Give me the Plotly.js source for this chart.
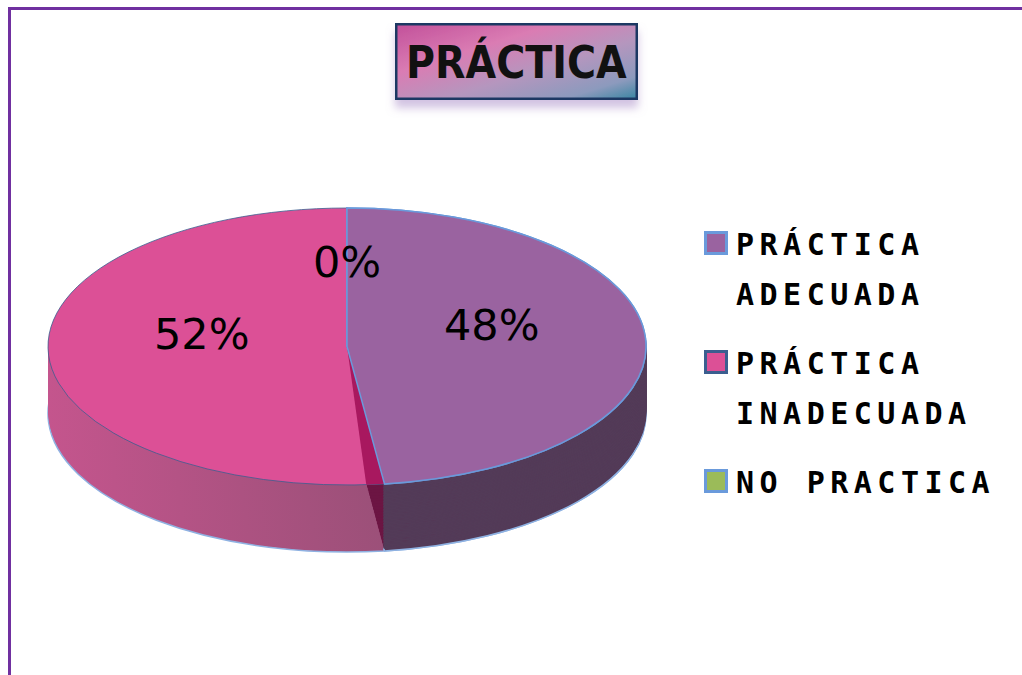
<!DOCTYPE html>
<html>
<head>
<meta charset="utf-8">
<script src="https://cdn.plot.ly/plotly-3.0.1.min.js"></script>
<style>
  html, body { margin: 0; padding: 0; background: #fff; overflow: hidden; }
  #chart { width: 1022px; height: 675px; }
  .legendtext { letter-spacing: 5.5px; }
</style>
</head>
<body>
<div id="chart"></div>
<script>
// Practice categories and their shares (%)
const categories = ['PRÁCTICA<br>ADECUADA', 'PRÁCTICA<br>INADECUADA', 'NO PRACTICA'];
const shares = [48, 52, 0];
const chartTitle = 'PRÁCTICA';

// Slice colours: top face, side wall and outline
const topColors = ['#9A63A0', '#DC5096', '#9BBB59'];
const sideColors = ['#533B58', '#AE5282', '#76923C'];
const edgeColors = ['#6A9ADB', '#3B5E8F', '#6A9ADB'];
const edgeWidths = [1.5, 0.8, 1.5];
const cutTopColor = '#A8185F';    // exposed cut face, upper part
const cutSideColor = '#6C1543';   // exposed cut face, in shadow
const rimColor = '#8FB2E2';
const CLEAR = 'rgba(0,0,0,0)';

// Page and disc geometry (pixels)
const W = 1022, H = 675;
const PIE_LEFT = 48, PIE_RIGHT = 646;
const CX = (PIE_LEFT + PIE_RIGHT) / 2;
const RX = (PIE_RIGHT - PIE_LEFT) / 2;
const TOP_CY = 346.5;      // centre of the tilted top face
const RY = 138.5;          // half-height of the tilted top face
const DEPTH = 67;          // thickness of the disc
const LAYERS = 24;         // stacked copies that build the side wall
const CUT_TURN = 3.5;      // degrees of cut face left visible at the top
const LABEL_R = 0.485;     // label distance, fraction of the radius
const LABEL_LIFT = 17;

const pieBase = {
  type: 'pie',
  labels: categories,
  values: shares,
  sort: false,
  direction: 'clockwise',
  rotation: 0,
  textinfo: 'none',
  hoverinfo: 'skip',
  showlegend: false,
  domain: { x: [PIE_LEFT / W, PIE_RIGHT / W], y: [0, 1] }
};

const data = [];
const traceDepth = [];     // vertical drop of each trace, px
const pinkShaded = [];     // traces whose second slice gets the side shading
function addTrace(extra, depth, shaded) {
  data.push(Object.assign({}, pieBase, extra));
  traceDepth.push(depth);
  pinkShaded.push(shaded);
}

// Side wall: copies of the disc, deepest first. Each copy is the
// second slice over a turned cut face, then the first slice on top
// (its own outline in the same colour hides the seam between them).
for (let i = LAYERS; i >= 1; i--) {
  const f = i / LAYERS;
  const deepest = i === LAYERS;
  addTrace({
    rotation: CUT_TURN * (1 - f),
    marker: {
      colors: [cutSideColor, sideColors[1], sideColors[2]],
      line: { color: deepest ? rimColor : CLEAR, width: deepest ? 1.5 : 0 }
    }
  }, DEPTH * f, true);
  addTrace({
    marker: {
      colors: [sideColors[0], CLEAR, CLEAR],
      line: { color: [deepest ? rimColor : sideColors[0], CLEAR, CLEAR], width: 1.5 }
    }
  }, DEPTH * f, false);
}
// Top face (carries the legend)
addTrace({
  showlegend: true,
  marker: { colors: topColors, line: { color: edgeColors, width: edgeWidths } }
}, 0, false);
// Cut face: the first slice turned a little, showing a dark wedge
addTrace({
  rotation: CUT_TURN,
  marker: { colors: [cutTopColor, CLEAR, CLEAR], line: { width: 0 } }
}, 0, false);
// First slice of the top face again, over the wedge
addTrace({
  marker: { colors: [topColors[0], CLEAR, CLEAR], line: { color: [edgeColors[0], CLEAR, CLEAR], width: 1.5 } }
}, 0, false);

// Percentage labels placed over the tilted top face
const total = shares.reduce((a, b) => a + b, 0);
let acc = 0;
const labelAnnotations = shares.map(v => {
  const mid = (acc + v / 2) / total * 2 * Math.PI;
  acc += v;
  const px = CX + LABEL_R * RX * Math.sin(mid);
  const py = TOP_CY - LABEL_R * RY * Math.cos(mid) - LABEL_LIFT;
  return {
    xref: 'paper', yref: 'paper', x: px / W, y: 1 - py / H,
    xanchor: 'center', yanchor: 'middle', showarrow: false,
    text: Math.round(v / total * 100) + '%',
    font: { family: '"DejaVu Sans", sans-serif', size: 43, color: '#000' }
  };
});

const titleAnnotation = {
  xref: 'paper', yref: 'paper', x: 516.5 / W, y: 1 - 61.5 / H,
  xanchor: 'center', yanchor: 'middle', showarrow: false,
  text: chartTitle,
  font: { family: '"Liberation Sans Narrow", "DejaVu Sans Condensed", sans-serif', size: 44, weight: 700, color: '#111' },
  bgcolor: '#C87AB0', bordercolor: '#1F3864', borderwidth: 2.5, borderpad: 0,
  width: 238, height: 72
};

const layout = {
  width: W, height: H,
  margin: { l: 0, r: 0, t: 0, b: 0 },
  paper_bgcolor: '#ffffff',
  showlegend: true,
  legend: {
    x: 696 / W, y: 1 - 217 / H, xanchor: 'left', yanchor: 'top',
    valign: 'top', traceorder: 'normal',
    bgcolor: 'rgba(0,0,0,0)', borderwidth: 0,
    font: { family: '"DejaVu Sans Mono", monospace', size: 30, weight: 700, color: '#000' },
    itemclick: false, itemdoubleclick: false
  },
  annotations: [titleAnnotation].concat(labelAnnotations),
  shapes: [
    { type: 'line', xref: 'paper', yref: 'paper', x0: 8 / W, x1: 1, y0: 1 - 8.5 / H, y1: 1 - 8.5 / H,
      line: { color: '#7030A0', width: 3 } },
    { type: 'line', xref: 'paper', yref: 'paper', x0: 9.5 / W, x1: 9.5 / W, y0: 0, y1: 1 - 7 / H,
      line: { color: '#7030A0', width: 3 } }
  ]
};

const SVGNS = 'http://www.w3.org/2000/svg';
function el(tag, attrs, parent) {
  const n = document.createElementNS(SVGNS, tag);
  Object.keys(attrs).forEach(k => n.setAttribute(k, attrs[k]));
  if (parent) parent.appendChild(n);
  return n;
}
function gradient(defs, id, x2, y2, stops) {
  const g = el('linearGradient', { id: id, x1: 0, y1: 0, x2: x2, y2: y2 }, defs);
  stops.forEach(s => el('stop', { offset: s[0], 'stop-color': s[1] }, g));
}

Plotly.newPlot('chart', data, layout, { staticPlot: true }).then(gd => {
  const svg = gd.querySelector('svg.main-svg');
  const defs = svg.querySelector('defs') || el('defs', {}, svg);

  gradient(defs, 'pinkSide', 1, 0, [[0, '#C4558D'], [1, '#9C5079']]);
  gradient(defs, 'titleFill', 1, 1, [[0, '#C2509A'], [0.33, '#DA7CB3'], [0.6, '#B596BE'], [0.85, '#8C9ABD'], [1, '#3A86A2']]);
  const shadow = el('filter', { id: 'titleShadow', x: '-10%', y: '-20%', width: '120%', height: '160%' }, defs);
  el('feDropShadow', { dx: 0, dy: 8, stdDeviation: 4, 'flood-color': '#A587C4', 'flood-opacity': 0.5 }, shadow);

  // Tilt each disc copy into an ellipse and drop it to its depth
  const traceGroups = gd.querySelectorAll('.pielayer .trace');
  traceGroups.forEach((g, t) => {
    const cd0 = gd.calcdata[t][0];
    const sx = RX / cd0.r, sy = RY / cd0.r;
    g.setAttribute('transform',
      `translate(${CX},${TOP_CY + traceDepth[t]}) scale(${sx},${sy}) translate(${-cd0.cx},${-cd0.cy})`);
    const paths = g.querySelectorAll('path.surface');
    paths.forEach(p => p.setAttribute('vector-effect', 'non-scaling-stroke'));
    if (pinkShaded[t] && paths[1]) paths[1].style.fill = 'url(#pinkSide)';
  });

  // Title box fill and shadow
  const titleBg = gd.querySelector('.annotation[data-index="0"] rect.bg');
  if (titleBg) {
    titleBg.style.fill = 'url(#titleFill)';
    titleBg.setAttribute('filter', 'url(#titleShadow)');
  }

  // Legend: larger swatches, wider line pitch
  const LINE_PITCH = 50, ITEM_GAP = 19;
  gd.querySelectorAll('.legend .legendpie').forEach(p => {
    p.setAttribute('transform', 'translate(20,0) scale(1.75)');
    p.setAttribute('vector-effect', 'non-scaling-stroke');
    p.style.strokeWidth = '3px';
  });
  const scroll = gd.querySelector('.legend .scrollbox');
  if (scroll) scroll.removeAttribute('clip-path');
  let firstLine = null;
  gd.querySelectorAll('.legend .traces').forEach(item => {
    const m = /translate\(([-\d.e]+)[ ,]+([-\d.e]+)\)/.exec(item.getAttribute('transform') || '');
    const tx = m ? +m[1] : 0;
    const txt = item.querySelector('text.legendtext');
    const fs = parseFloat(txt.style.fontSize) || 30;
    const lh0 = 1.3 * fs;
    const lines = txt.querySelectorAll('tspan.line');
    const n = Math.max(lines.length, 1);
    const shift = (n - 1) / 2 * lh0;   // item origin sits below its first line
    if (firstLine === null) firstLine = (m ? +m[2] : 0) - shift;
    item.setAttribute('transform', `translate(${tx},${firstLine + shift})`);
    lines.forEach(ln => {
      const d = parseFloat(ln.getAttribute('dy')) || 0;
      ln.setAttribute('dy', (d * LINE_PITCH / lh0) + 'em');
    });
    firstLine += n * LINE_PITCH + ITEM_GAP;
  });
});
</script>
</body>
</html>
